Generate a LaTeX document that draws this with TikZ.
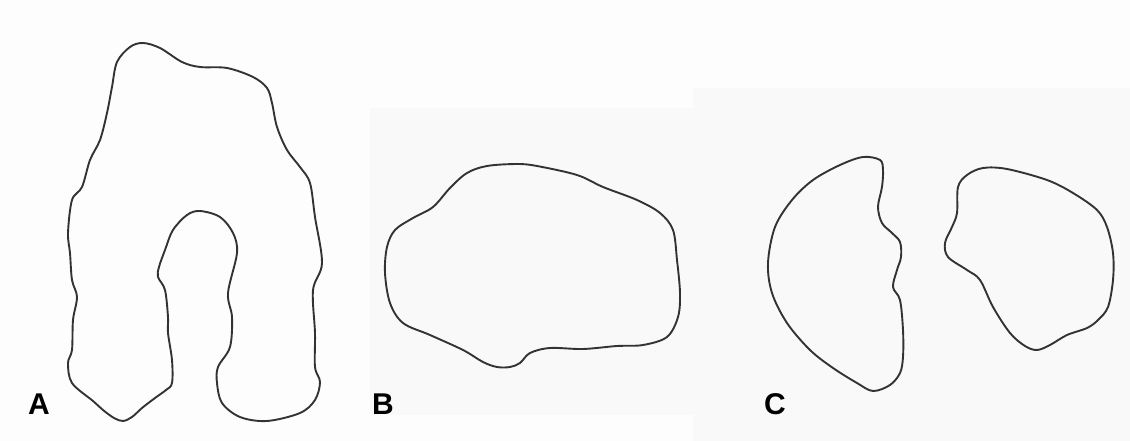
\documentclass[tikz,border=0pt]{standalone}
\usepackage{fontspec}
\setsansfont{Liberation Sans}
\usepackage{tikz}
\usetikzlibrary{positioning}
\definecolor{paper}{HTML}{FDFDFD}
\definecolor{sheet}{HTML}{F9F9F9}
\definecolor{pencil}{HTML}{333333}
\tikzset{x=1pt, y=-1pt, % work in pixel-like units, y going down
outline/.style={ % Sets the look of each traced outline
draw=pencil, line width=1.9pt, line join=round},
panel/.style={ % Letter under each drawing
font=\sffamily\bfseries\fontsize{30}{32}\selectfont,
inner sep=0pt, text=black}}

\begin{document}
\begin{tikzpicture}

    \useasboundingbox (0,0) rectangle (1130,441);
    \fill[paper] (0,0) rectangle (1130,441);
    \fill[sheet] (370,108) rectangle (693,415);
    \fill[sheet] (693,88) rectangle (1130,441);

    % A
    \draw[outline] plot[smooth cycle, tension=0.55] coordinates {
      (117,62) (130,47) (143,43) (160,48) (182,62) (200,67) (227,68)
      (253,77) (267,88) (272,103) (277,127) (287,150) (300,167) (310,183)
      (315,217) (322,263) (313,290) (315,333) (315,367) (320,382) (315,400)
      (300,413) (267,421) (240,417) (222,403) (217,383) (218,367) (230,347)
      (232,317) (228,293) (237,253) (233,233) (220,217) (200,211) (187,215)
      (173,230) (165,250) (159,267) (158,277) (165,290) (168,317) (168,333)
      (172,360) (172,383) (166,390) (155,398) (142,408) (132,417) (123,421)
      (114,418) (103,410) (93,401) (72,383) (68,363) (72,350) (73,320)
      (77,297) (72,280) (70,253) (68,233) (72,200) (82,187) (90,160)
      (100,140) (107,113) (112,87)};

    % B
    \draw[outline] plot[smooth cycle, tension=0.55] coordinates {
      (487,166) (517,164) (537,166) (577,175) (603,187) (637,200) (660,213)
      (673,230) (677,260) (680,293) (678,317) (667,337) (643,345) (617,346)
      (583,349) (550,348) (530,353) (520,363) (510,367) (497,367) (483,362)
      (463,350) (430,335) (403,323) (390,303) (385,273) (387,247) (395,230)
      (413,218) (433,207) (450,188) (467,173)};

    % C, first piece
    \draw[outline] plot[smooth cycle, tension=0.55] coordinates {
      (863,157) (880,160) (883,170) (882,187) (878,207) (882,223) (892,233)
      (900,242) (901,257) (897,270) (893,287) (900,300) (903,330) (903,357)
      (900,373) (890,385) (873,391) (857,383) (833,368) (810,350) (787,323)
      (772,293) (768,263) (775,227) (792,200) (813,180) (840,165)};

    % C, second piece
    \draw[outline] plot[smooth cycle, tension=0.55] coordinates {
      (983,168) (1007,169) (1047,180) (1073,193) (1097,210) (1107,227)
      (1113,253) (1113,280) (1108,307) (1098,320) (1087,328) (1067,335)
      (1050,345) (1037,350) (1025,346) (1010,333) (993,307) (980,280)
      (967,270) (948,257) (945,243) (952,227) (957,213) (958,187) (967,175)};

    \node[panel] (a) at (39,404) {A};
    \node[panel] (b) at (383,404) {B};
    \node[panel] (c) at (775,404) {C};

\end{tikzpicture}
\end{document}
